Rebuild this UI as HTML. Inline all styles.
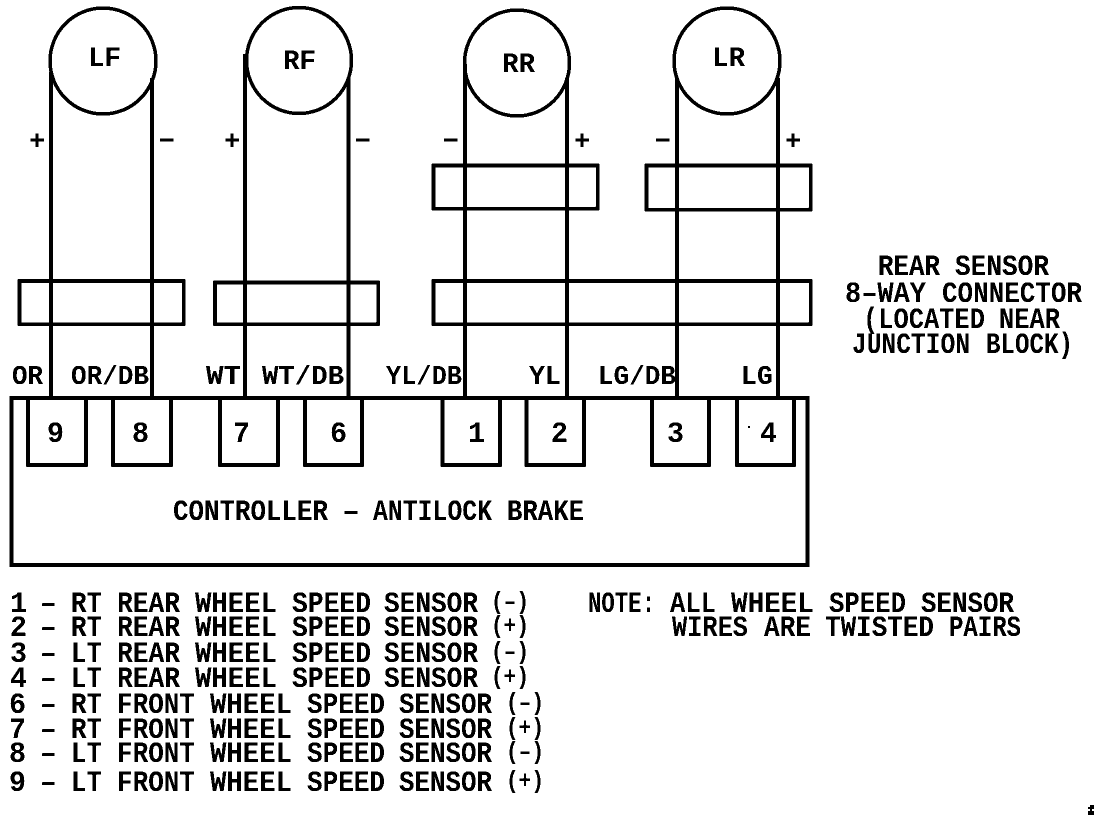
<!DOCTYPE html>
<html><head><meta charset="utf-8"><style>
html,body{margin:0;padding:0;background:#fff;width:1104px;height:822px;overflow:hidden}
svg{display:block}
text{font-family:"Liberation Mono",monospace;font-weight:bold;fill:#000}
.s{font-size:30px}.w{font-size:27px}.n{font-size:28px}
text.q{font-size:25px}
.p text{font-family:"Liberation Sans",sans-serif;font-size:27px;text-anchor:middle}
</style></head><body>
<svg width="1104" height="822" viewBox="0 0 1104 822" xmlns="http://www.w3.org/2000/svg">
<defs><filter id="b" filterUnits="userSpaceOnUse" x="0" y="0" width="1104" height="822" color-interpolation-filters="sRGB"><feComponentTransfer><feFuncA type="discrete" tableValues="0 1"/></feComponentTransfer></filter></defs>
<g filter="url(#b)">
<g fill="none" stroke="#000" stroke-width="3.5">
<ellipse cx="103" cy="61" rx="53" ry="53"/>
<ellipse cx="299" cy="60.5" rx="52.500" ry="53"/>
<ellipse cx="517" cy="63" rx="52.500" ry="53"/>
<ellipse cx="727" cy="61" rx="53" ry="53"/>
<path d="M51 72V397M152 78V397M245 54V397M348.500 78V397M465 64V397M567 78V397M677 78V397M778 78V397"/>
<g stroke-width="3.5">
<rect x="19.500" y="281" width="164" height="43"/>
<rect x="215" y="282.500" width="163" height="41.500"/>
<rect x="433.500" y="281" width="377" height="43"/>
<rect x="433.500" y="165.500" width="164" height="43"/>
<rect x="646.500" y="165.500" width="164" height="44"/>
<path d="M28 398V465H86V398M113 398V465H171V398M220 398V465H278V398M305 398V465H362V398M442.500 398V465H500V398M526.500 398V465H584V398M652 398V465H709V398M737 398V465H794V398"/>
</g>
<rect x="11.500" y="398" width="796" height="167" stroke-width="4"/>
</g>
<rect x="748" y="426" width="2" height="2"/>
<path d="M1090 805h4v4h-2v2h2v4h-6v-4h2v-2h-2v-2h2z"/>

<g class="n">
<text x="88" y="66" textLength="33" lengthAdjust="spacingAndGlyphs">LF</text>
<text x="283" y="69" textLength="33" lengthAdjust="spacingAndGlyphs">RF</text>
<text x="502" y="72" textLength="33" lengthAdjust="spacingAndGlyphs">RR</text>
<text x="712" y="66" textLength="33" lengthAdjust="spacingAndGlyphs">LR</text>
</g>

<g class="p">
<text x="37" y="149">+</text><text x="167" y="149">−</text>
<text x="232" y="149">+</text><text x="363" y="149">−</text>
<text x="451" y="149">−</text><text x="582" y="149">+</text>
<text x="663" y="149">−</text><text x="793" y="149">+</text>
</g>

<g class="w">
<text x="12" y="384" textLength="31" lengthAdjust="spacingAndGlyphs">OR</text>
<text x="71" y="384" textLength="78" lengthAdjust="spacingAndGlyphs">OR/DB</text>
<text x="206" y="384" textLength="35" lengthAdjust="spacingAndGlyphs">WT</text>
<text x="262" y="384" textLength="82" lengthAdjust="spacingAndGlyphs">WT/DB</text>
<text x="386" y="384" textLength="76" lengthAdjust="spacingAndGlyphs">YL/DB</text>
<text x="529" y="384" textLength="32" lengthAdjust="spacingAndGlyphs">YL</text>
<text x="598" y="384" textLength="78" lengthAdjust="spacingAndGlyphs">LG/DB</text>
<text x="741" y="384" textLength="32" lengthAdjust="spacingAndGlyphs">LG</text>
</g>

<g class="s">
<text x="47" y="442" textLength="17" lengthAdjust="spacingAndGlyphs">9</text>
<text x="132" y="442" textLength="17" lengthAdjust="spacingAndGlyphs">8</text>
<text x="233" y="442" textLength="17" lengthAdjust="spacingAndGlyphs">7</text>
<text x="330" y="442" textLength="17" lengthAdjust="spacingAndGlyphs">6</text>
<text x="468" y="442" textLength="17" lengthAdjust="spacingAndGlyphs">1</text>
<text x="551" y="442" textLength="17" lengthAdjust="spacingAndGlyphs">2</text>
<text x="667" y="442" textLength="17" lengthAdjust="spacingAndGlyphs">3</text>
<text x="760" y="442" textLength="17" lengthAdjust="spacingAndGlyphs">4</text>

<text x="173" y="520" textLength="155" lengthAdjust="spacingAndGlyphs">CONTROLLER</text>
<text x="342" y="520" textLength="18" lengthAdjust="spacingAndGlyphs">–</text>
<text x="373" y="520" textLength="119" lengthAdjust="spacingAndGlyphs">ANTILOCK</text>
<text x="507" y="520" textLength="77" lengthAdjust="spacingAndGlyphs">BRAKE</text>

<text x="878" y="275" textLength="62" lengthAdjust="spacingAndGlyphs">REAR</text>
<text x="955" y="275" textLength="94" lengthAdjust="spacingAndGlyphs">SENSOR</text>
<text x="845" y="302" textLength="81" lengthAdjust="spacingAndGlyphs">8–WAY</text>
<text x="942" y="302" textLength="140" lengthAdjust="spacingAndGlyphs">CONNECTOR</text>
<text x="863" y="328" textLength="122" lengthAdjust="spacingAndGlyphs">(LOCATED</text>
<text x="999" y="328" textLength="61" lengthAdjust="spacingAndGlyphs">NEAR</text>
<text x="852" y="353" textLength="118" lengthAdjust="spacingAndGlyphs">JUNCTION</text>
<text x="986" y="353" textLength="87" lengthAdjust="spacingAndGlyphs">BLOCK)</text>

<text x="588" y="612" textLength="67" lengthAdjust="spacingAndGlyphs">NOTE:</text>
<text x="670" y="612" textLength="46" lengthAdjust="spacingAndGlyphs">ALL</text>
<text x="731" y="612" textLength="83" lengthAdjust="spacingAndGlyphs">WHEEL</text>
<text x="829" y="612" textLength="77" lengthAdjust="spacingAndGlyphs">SPEED</text>
<text x="921" y="612" textLength="93" lengthAdjust="spacingAndGlyphs">SENSOR</text>
<text x="672" y="636" textLength="76" lengthAdjust="spacingAndGlyphs">WIRES</text>
<text x="764" y="636" textLength="47" lengthAdjust="spacingAndGlyphs">ARE</text>
<text x="825" y="636" textLength="109" lengthAdjust="spacingAndGlyphs">TWISTED</text>
<text x="949" y="636" textLength="72" lengthAdjust="spacingAndGlyphs">PAIRS</text>

<g>
<text x="10" y="612" textLength="17" lengthAdjust="spacingAndGlyphs">1</text><text x="40" y="612" textLength="17" lengthAdjust="spacingAndGlyphs">–</text><text x="71" y="612" textLength="31" lengthAdjust="spacingAndGlyphs">RT</text><text x="117" y="612" textLength="63" lengthAdjust="spacingAndGlyphs">REAR</text><text x="195" y="612" textLength="82" lengthAdjust="spacingAndGlyphs">WHEEL</text><text x="292" y="612" textLength="79" lengthAdjust="spacingAndGlyphs">SPEED</text><text x="384" y="612" textLength="94" lengthAdjust="spacingAndGlyphs">SENSOR</text><text class="q" x="491" y="609" textLength="38" lengthAdjust="spacingAndGlyphs">(–)</text>
<text x="10" y="636" textLength="17" lengthAdjust="spacingAndGlyphs">2</text><text x="40" y="636" textLength="17" lengthAdjust="spacingAndGlyphs">–</text><text x="71" y="636" textLength="31" lengthAdjust="spacingAndGlyphs">RT</text><text x="117" y="636" textLength="63" lengthAdjust="spacingAndGlyphs">REAR</text><text x="195" y="636" textLength="82" lengthAdjust="spacingAndGlyphs">WHEEL</text><text x="292" y="636" textLength="79" lengthAdjust="spacingAndGlyphs">SPEED</text><text x="384" y="636" textLength="94" lengthAdjust="spacingAndGlyphs">SENSOR</text><text class="q" x="491" y="633" textLength="38" lengthAdjust="spacingAndGlyphs">(+)</text>
<text x="10" y="662" textLength="17" lengthAdjust="spacingAndGlyphs">3</text><text x="40" y="662" textLength="17" lengthAdjust="spacingAndGlyphs">–</text><text x="71" y="662" textLength="31" lengthAdjust="spacingAndGlyphs">LT</text><text x="117" y="662" textLength="63" lengthAdjust="spacingAndGlyphs">REAR</text><text x="195" y="662" textLength="82" lengthAdjust="spacingAndGlyphs">WHEEL</text><text x="292" y="662" textLength="79" lengthAdjust="spacingAndGlyphs">SPEED</text><text x="384" y="662" textLength="94" lengthAdjust="spacingAndGlyphs">SENSOR</text><text class="q" x="491" y="659" textLength="38" lengthAdjust="spacingAndGlyphs">(–)</text>
<text x="10" y="687" textLength="17" lengthAdjust="spacingAndGlyphs">4</text><text x="40" y="687" textLength="17" lengthAdjust="spacingAndGlyphs">–</text><text x="71" y="687" textLength="31" lengthAdjust="spacingAndGlyphs">LT</text><text x="117" y="687" textLength="63" lengthAdjust="spacingAndGlyphs">REAR</text><text x="195" y="687" textLength="82" lengthAdjust="spacingAndGlyphs">WHEEL</text><text x="292" y="687" textLength="79" lengthAdjust="spacingAndGlyphs">SPEED</text><text x="384" y="687" textLength="94" lengthAdjust="spacingAndGlyphs">SENSOR</text><text class="q" x="491" y="684" textLength="38" lengthAdjust="spacingAndGlyphs">(+)</text>
<text x="9" y="713" textLength="17" lengthAdjust="spacingAndGlyphs">6</text><text x="40" y="713" textLength="17" lengthAdjust="spacingAndGlyphs">–</text><text x="71" y="713" textLength="31" lengthAdjust="spacingAndGlyphs">RT</text><text x="117" y="713" textLength="78" lengthAdjust="spacingAndGlyphs">FRONT</text><text x="210" y="713" textLength="82" lengthAdjust="spacingAndGlyphs">WHEEL</text><text x="307" y="713" textLength="78" lengthAdjust="spacingAndGlyphs">SPEED</text><text x="399" y="713" textLength="93" lengthAdjust="spacingAndGlyphs">SENSOR</text><text class="q" x="506" y="710" textLength="38" lengthAdjust="spacingAndGlyphs">(–)</text>
<text x="9" y="738" textLength="17" lengthAdjust="spacingAndGlyphs">7</text><text x="40" y="738" textLength="17" lengthAdjust="spacingAndGlyphs">–</text><text x="71" y="738" textLength="31" lengthAdjust="spacingAndGlyphs">RT</text><text x="117" y="738" textLength="78" lengthAdjust="spacingAndGlyphs">FRONT</text><text x="210" y="738" textLength="82" lengthAdjust="spacingAndGlyphs">WHEEL</text><text x="307" y="738" textLength="78" lengthAdjust="spacingAndGlyphs">SPEED</text><text x="399" y="738" textLength="93" lengthAdjust="spacingAndGlyphs">SENSOR</text><text class="q" x="506" y="735" textLength="38" lengthAdjust="spacingAndGlyphs">(+)</text>
<text x="9" y="762" textLength="17" lengthAdjust="spacingAndGlyphs">8</text><text x="40" y="762" textLength="17" lengthAdjust="spacingAndGlyphs">–</text><text x="71" y="762" textLength="31" lengthAdjust="spacingAndGlyphs">LT</text><text x="117" y="762" textLength="78" lengthAdjust="spacingAndGlyphs">FRONT</text><text x="210" y="762" textLength="82" lengthAdjust="spacingAndGlyphs">WHEEL</text><text x="307" y="762" textLength="78" lengthAdjust="spacingAndGlyphs">SPEED</text><text x="399" y="762" textLength="93" lengthAdjust="spacingAndGlyphs">SENSOR</text><text class="q" x="506" y="759" textLength="38" lengthAdjust="spacingAndGlyphs">(–)</text>
<text x="9" y="791" textLength="17" lengthAdjust="spacingAndGlyphs">9</text><text x="40" y="791" textLength="17" lengthAdjust="spacingAndGlyphs">–</text><text x="71" y="791" textLength="31" lengthAdjust="spacingAndGlyphs">LT</text><text x="117" y="791" textLength="78" lengthAdjust="spacingAndGlyphs">FRONT</text><text x="210" y="791" textLength="82" lengthAdjust="spacingAndGlyphs">WHEEL</text><text x="307" y="791" textLength="78" lengthAdjust="spacingAndGlyphs">SPEED</text><text x="399" y="791" textLength="93" lengthAdjust="spacingAndGlyphs">SENSOR</text><text class="q" x="506" y="788" textLength="38" lengthAdjust="spacingAndGlyphs">(+)</text>
</g>
</g>
</g>
</svg>
</body></html>
